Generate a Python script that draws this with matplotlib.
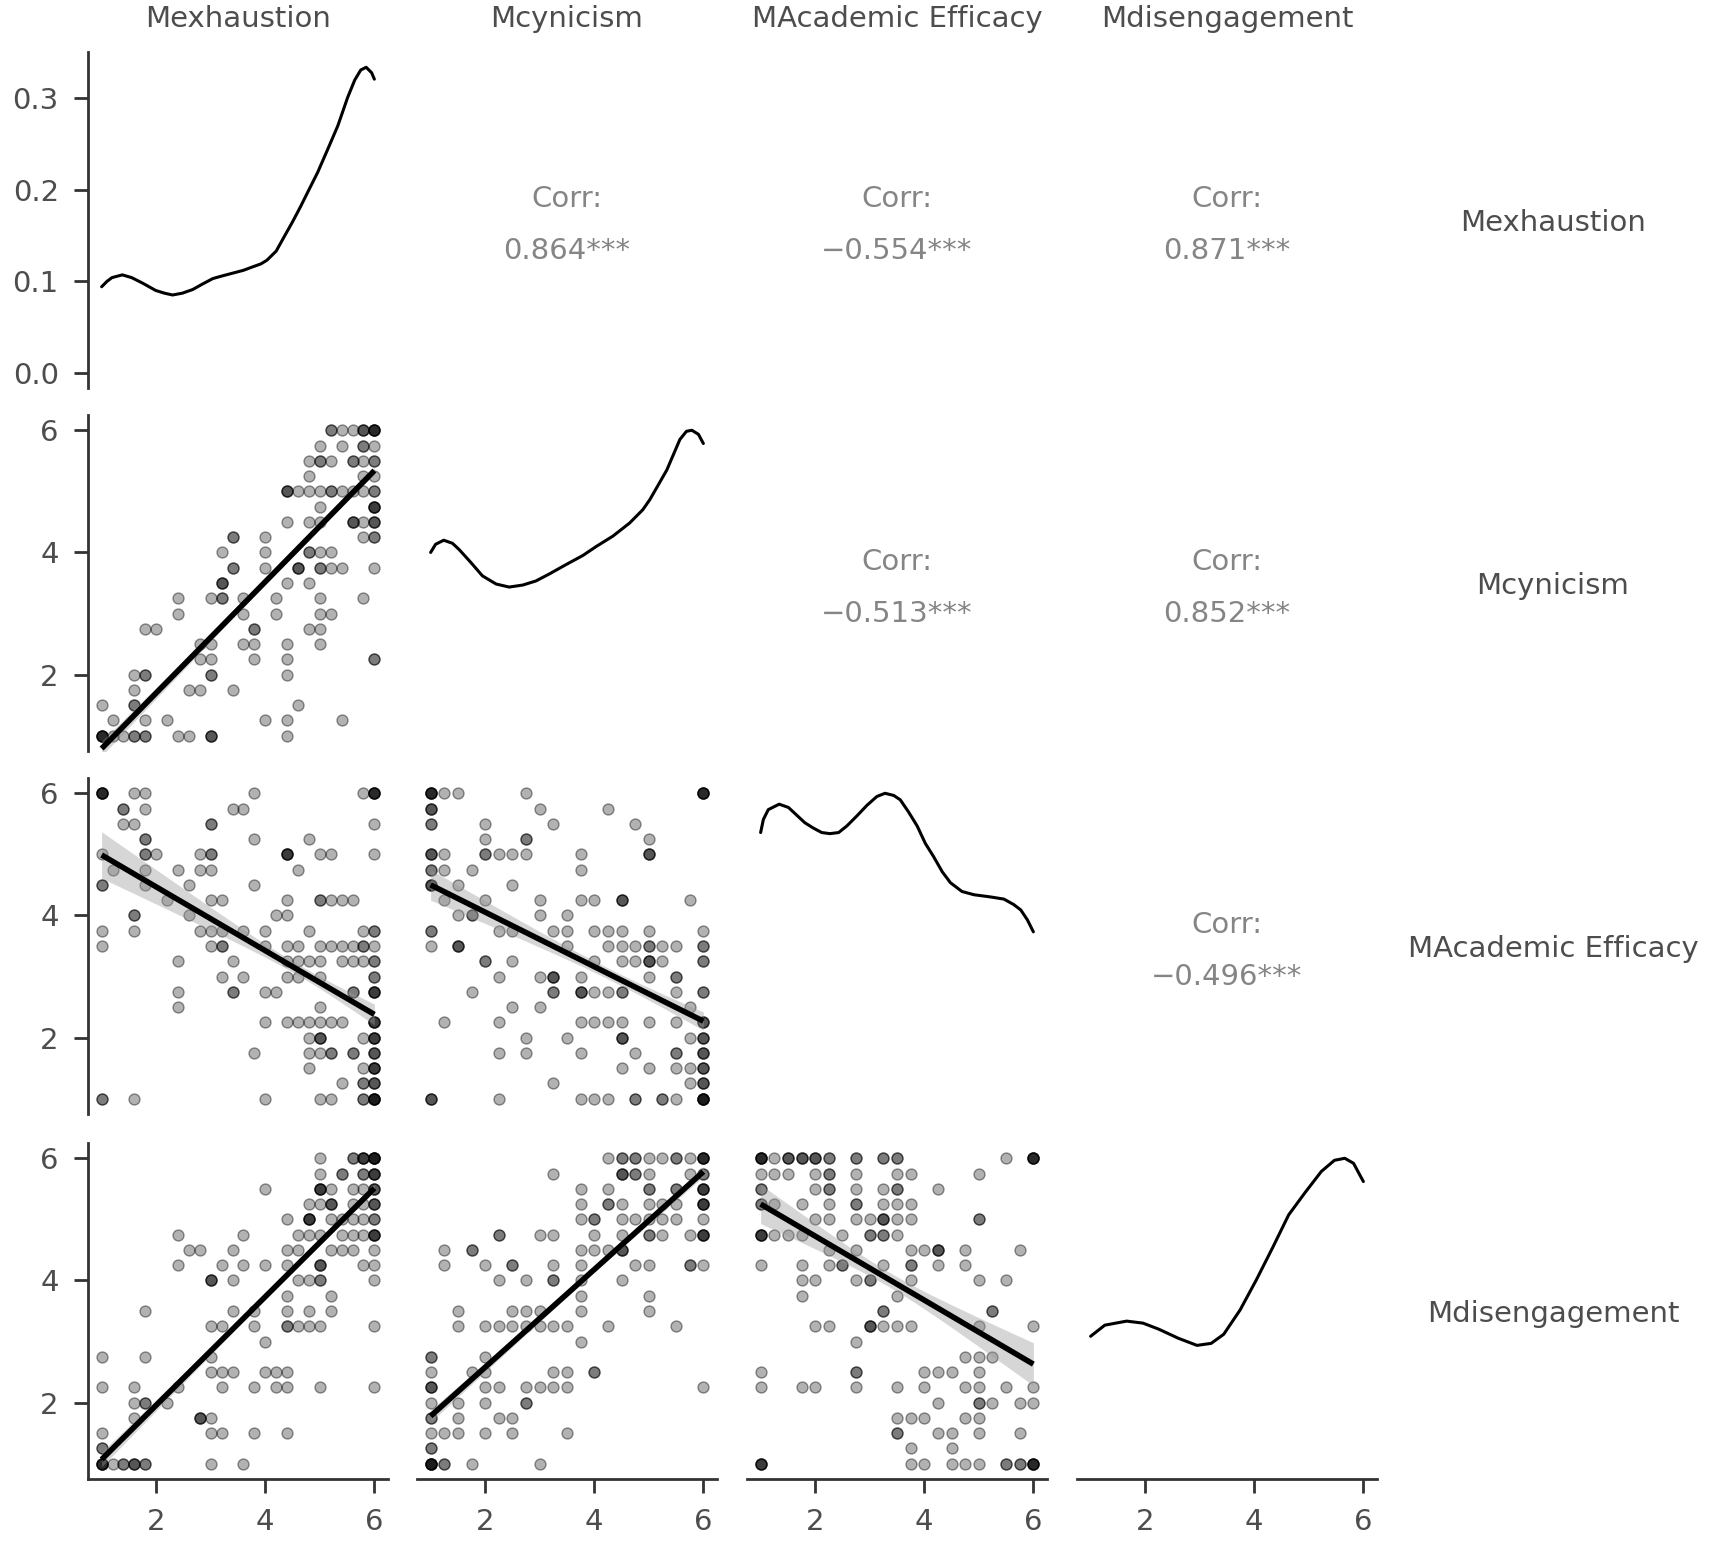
import numpy as np
import matplotlib
matplotlib.use("Agg")
import matplotlib.pyplot as plt

plt.rcParams['font.family'] = ['DejaVu Sans']

# ---------------- data ----------------
variables = ["Mexhaustion", "Mcynicism", "MAcademic Efficacy", "Mdisengagement"]

# correlations (upper triangle) : (row, col, text)
corr_cells = [(0, 1, "0.864***"), (0, 2, "\u22120.554***"), (0, 3, "0.871***"),
              (1, 2, "\u22120.513***"), (1, 3, "0.852***"),
              (2, 3, "\u22120.496***")]

# diagonal density curves (x, density)
dens_exh_x = [1.0, 1.1, 1.19, 1.38, 1.55, 1.75, 1.99, 2.15, 2.30, 2.48, 2.67, 2.85, 3.04, 3.22, 3.41, 3.6, 3.78, 3.92,
              4.03, 4.2, 4.34, 4.5, 4.65, 4.8, 4.96, 5.15, 5.33, 5.51, 5.64, 5.75, 5.85, 5.95, 6.0]
dens_exh_y = [0.094, 0.100, 0.104, 0.107, 0.104, 0.098, 0.090, 0.087, 0.085, 0.087, 0.091, 0.097, 0.103, 0.106, 0.109,
              0.112, 0.116, 0.119, 0.123, 0.133, 0.148, 0.165, 0.182, 0.200, 0.219, 0.245, 0.270, 0.301, 0.320, 0.331,
              0.334, 0.328, 0.321]

dens_cyn_x = [1.0, 1.09, 1.24, 1.40, 1.52, 1.74, 1.95, 2.20, 2.44, 2.69, 2.93, 3.18, 3.48, 3.79, 4.04, 4.34, 4.65,
              4.89, 5.02, 5.17, 5.33, 5.45, 5.57, 5.69, 5.79, 5.91, 6.0]
dens_cyn_y = [0.180, 0.188, 0.192, 0.189, 0.183, 0.170, 0.157, 0.149, 0.146, 0.148, 0.152, 0.159, 0.168, 0.177, 0.186,
              0.196, 0.209, 0.222, 0.232, 0.246, 0.261, 0.276, 0.291, 0.299, 0.300, 0.296, 0.287]

dens_ae_x = [1.0, 1.05, 1.14, 1.34, 1.51, 1.66, 1.81, 1.97, 2.12, 2.27, 2.43, 2.58, 2.76, 2.95, 3.13, 3.28, 3.44, 3.56,
             3.71, 3.87, 4.02, 4.17, 4.33, 4.48, 4.69, 4.91, 5.21, 5.46, 5.64, 5.77, 5.89, 6.0]
dens_ae_y = [0.244, 0.256, 0.265, 0.270, 0.267, 0.260, 0.253, 0.248, 0.244, 0.243, 0.244, 0.250, 0.259, 0.269, 0.277,
             0.280, 0.278, 0.274, 0.263, 0.250, 0.234, 0.222, 0.208, 0.198, 0.190, 0.187, 0.185, 0.183, 0.178, 0.173,
             0.164, 0.153]

dens_dis_x = [1.0, 1.26, 1.66, 1.96, 2.25, 2.61, 2.95, 3.21, 3.44, 3.74, 4.04, 4.34, 4.63, 4.93, 5.23, 5.47, 5.66,
              5.82, 6.0]
dens_dis_y = [0.126, 0.137, 0.141, 0.139, 0.133, 0.124, 0.117, 0.119, 0.128, 0.152, 0.182, 0.214, 0.246, 0.268,
              0.289, 0.300, 0.302, 0.297, 0.279]

# scatter points: rows of (y, [x values], [counts])
pts_cyn_exh = [
    (6.0, [5.2, 5.4, 5.6, 5.8, 6.0], [2, 1, 1, 3, 5]),
    (5.75, [5.0, 5.4, 5.8, 6.0], [1, 1, 2, 1]),
    (5.5, [4.8, 5.0, 5.2, 5.6, 5.8, 6.0], [1, 2, 1, 2, 1, 2]),
    (5.25, [4.8, 5.8, 6.0], [1, 1, 1]),
    (5.0, [4.4, 4.6, 4.8, 5.0, 5.2, 5.4, 5.6, 5.8, 6.0], [3, 1, 1, 1, 2, 1, 1, 1, 2]),
    (4.75, [5.0, 6.0], [1, 4]),
    (4.5, [4.4, 4.8, 5.0, 5.6, 5.8, 6.0], [1, 1, 1, 3, 1, 3]),
    (4.25, [3.4, 4.0, 5.8, 6.0], [2, 1, 1, 2]),
    (4.0, [3.2, 4.0, 4.8, 5.0, 5.2], [1, 1, 2, 1, 1]),
    (3.75, [3.4, 4.0, 4.6, 5.0, 5.2, 5.4, 6.0], [2, 1, 3, 2, 1, 1, 1]),
    (3.5, [3.2, 4.4, 4.8], [3, 1, 1]),
    (3.25, [2.4, 3.0, 3.2, 3.6, 4.2, 5.0, 5.8], [1, 1, 2, 1, 1, 1, 1]),
    (3.0, [2.4, 3.6, 4.2, 5.0, 5.2], [1, 1, 1, 1, 1]),
    (2.75, [1.8, 2.0, 3.8, 4.8, 5.0], [1, 1, 2, 1, 1]),
    (2.5, [2.8, 3.0, 3.6, 3.8, 4.4, 5.0], [1, 1, 1, 1, 1, 1]),
    (2.25, [2.8, 3.0, 3.8, 4.4, 6.0], [1, 1, 1, 1, 2]),
    (2.0, [1.6, 1.8, 3.0, 4.4], [1, 2, 2, 1]),
    (1.75, [1.6, 2.6, 2.8, 3.4], [1, 1, 1, 1]),
    (1.5, [1.0, 1.6, 4.6], [1, 2, 1]),
    (1.25, [1.2, 1.8, 2.2, 4.0, 4.4, 5.4], [1, 1, 1, 1, 1, 1]),
    (1.0, [1.0, 1.2, 1.4, 1.6, 1.8, 2.4, 2.6, 3.0, 4.4], [5, 1, 1, 2, 2, 1, 1, 3, 1]),
]

pts_ae_exh = [
    (6.0, [1.0, 1.6, 1.8, 3.8, 5.8, 6.0], [5, 1, 1, 1, 1, 5]),
    (5.75, [1.4, 1.8, 3.4, 3.6], [2, 1, 1, 1]),
    (5.5, [1.4, 1.6, 3.0, 6.0], [1, 1, 2, 1]),
    (5.25, [1.8, 3.8, 4.8], [2, 1, 1]),
    (5.0, [1.0, 1.8, 2.0, 2.8, 3.0, 4.4, 5.0, 5.2, 6.0], [1, 2, 1, 1, 2, 4, 1, 1, 1]),
    (4.75, [1.2, 1.8, 2.4, 2.8, 3.0, 4.6], [1, 1, 1, 1, 1, 1]),
    (4.5, [1.0, 1.8, 2.6, 3.8], [2, 1, 1, 1]),
    (4.25, [2.2, 3.0, 3.2, 4.4, 5.0, 5.2, 5.4, 5.6], [1, 1, 1, 1, 2, 1, 1, 1]),
    (4.0, [1.6, 2.6, 4.2, 4.4], [2, 1, 1, 1]),
    (3.75, [1.0, 1.6, 2.8, 3.0, 3.2, 3.6, 4.0, 4.8, 5.8, 6.0], [1, 1, 1, 1, 1, 1, 1, 1, 1, 2]),
    (3.5, [1.0, 3.0, 3.2, 4.0, 4.4, 4.6, 5.0, 5.2, 5.4, 5.6, 5.8, 6.0], [1, 1, 2, 1, 1, 1, 1, 1, 1, 1, 2, 1]),
    (3.25, [2.4, 3.4, 4.4, 4.6, 4.8, 5.0, 5.4, 5.6, 5.8, 6.0], [1, 1, 1, 1, 1, 1, 1, 1, 1, 2]),
    (3.0, [3.2, 3.6, 4.4, 4.6, 5.0, 6.0], [1, 1, 1, 1, 1, 2]),
    (2.75, [2.4, 3.4, 4.0, 4.2, 5.6, 6.0], [1, 2, 1, 1, 2, 4]),
    (2.5, [2.4, 5.0], [1, 1]),
    (2.25, [4.0, 4.4, 4.6, 4.8, 5.0, 5.2, 5.4, 6.0], [1, 1, 1, 1, 1, 1, 1, 4]),
    (2.0, [4.8, 5.0, 5.8, 6.0], [1, 3, 1, 4]),
    (1.75, [3.8, 4.8, 5.0, 5.2, 5.6, 6.0], [1, 1, 1, 2, 2, 3]),
    (1.5, [4.8, 5.8, 6.0], [1, 1, 4]),
    (1.25, [5.4, 5.8, 6.0], [1, 2, 3]),
    (1.0, [1.0, 1.6, 4.0, 5.0, 5.2, 5.8, 6.0], [2, 1, 1, 1, 1, 2, 6]),
]

pts_dis_exh = [
    (6.0, [5.0, 5.6, 5.8, 6.0], [1, 2, 4, 6]),
    (5.75, [5.0, 5.4, 5.8, 6.0], [1, 2, 2, 4]),
    (5.5, [4.0, 5.0, 5.2, 5.6, 5.8, 6.0], [1, 4, 1, 1, 1, 3]),
    (5.25, [4.8, 5.0, 5.2, 5.6, 5.8, 6.0], [1, 1, 3, 1, 1, 3]),
    (5.0, [4.4, 4.8, 5.2, 5.4, 5.6, 5.8, 6.0], [1, 4, 1, 1, 1, 1, 2]),
    (4.75, [2.4, 3.6, 4.6, 4.8, 5.0, 5.4, 5.6, 5.8, 6.0], [1, 1, 1, 1, 1, 1, 1, 1, 4]),
    (4.5, [2.6, 2.8, 3.4, 4.4, 4.6, 5.2, 5.4, 5.6, 6.0], [1, 1, 1, 1, 1, 1, 1, 1, 1]),
    (4.25, [2.4, 3.2, 3.6, 4.0, 4.4, 5.0, 5.8, 6.0], [1, 1, 1, 1, 1, 3, 1, 1]),
    (4.0, [3.0, 3.4, 4.6, 4.8, 5.0, 6.0], [3, 1, 1, 1, 2, 1]),
    (3.75, [4.4, 5.2], [1, 1]),
    (3.5, [1.8, 3.4, 3.8, 4.4, 4.8, 5.2], [1, 1, 1, 1, 1, 1]),
    (3.25, [3.0, 3.2, 3.8, 4.4, 4.6, 4.8, 5.0, 6.0], [1, 1, 1, 2, 1, 1, 1, 1]),
    (3.0, [4.0], [1]),
    (2.75, [1.0, 1.8, 3.0], [1, 1, 1]),
    (2.5, [3.0, 3.2, 3.4, 4.0, 4.2, 4.4], [1, 1, 1, 1, 1, 1]),
    (2.25, [1.0, 1.6, 2.4, 3.2, 3.8, 4.2, 4.4, 5.0, 6.0], [1, 1, 1, 1, 1, 1, 1, 1, 1]),
    (2.0, [1.6, 1.8, 2.2], [1, 2, 1]),
    (1.75, [1.6, 2.8, 3.0], [1, 3, 1]),
    (1.5, [1.0, 3.0, 3.2, 3.8, 4.4], [1, 1, 1, 1, 1]),
    (1.25, [1.0], [2]),
    (1.0, [1.0, 1.2, 1.4, 1.6, 1.8, 3.0, 3.6], [5, 1, 2, 3, 2, 1, 1]),
]

pts_ae_cyn = [
    (6.0, [1.0, 1.25, 1.5, 2.75, 6.0], [5, 1, 1, 1, 5]),
    (5.75, [1.0, 3.0, 4.25], [3, 1, 1]),
    (5.5, [1.0, 2.0, 3.25, 4.75], [2, 1, 1, 1]),
    (5.25, [2.0, 2.75, 5.0], [1, 2, 1]),
    (5.0, [1.0, 1.25, 2.0, 2.25, 2.5, 2.75, 3.75, 5.0], [3, 1, 2, 1, 1, 1, 1, 3]),
    (4.75, [1.0, 1.25, 1.75, 3.75], [2, 1, 1, 1]),
    (4.5, [1.0, 1.5, 2.5], [3, 1, 1]),
    (4.25, [1.25, 2.0, 3.0, 3.75, 4.0, 4.5, 5.75], [1, 1, 1, 1, 1, 3, 1]),
    (4.0, [1.5, 1.75, 3.0, 3.5], [1, 2, 1, 1]),
    (3.75, [1.0, 2.25, 2.5, 3.25, 3.5, 4.0, 4.25, 4.5, 5.0, 6.0], [2, 1, 1, 1, 1, 1, 1, 1, 1, 1]),
    (3.5, [1.0, 1.5, 3.5, 4.25, 4.5, 4.75, 5.0, 5.25, 5.5, 6.0], [1, 3, 1, 1, 1, 1, 2, 1, 1, 2]),
    (3.25, [2.0, 2.5, 4.0, 4.5, 4.75, 5.0, 5.25, 6.0], [2, 1, 1, 1, 1, 3, 1, 2]),
    (3.0, [2.25, 3.0, 3.25, 3.75, 5.0, 5.5], [1, 1, 3, 1, 1, 2]),
    (2.75, [1.75, 3.25, 3.75, 4.0, 4.25, 4.5, 5.5, 6.0], [1, 2, 3, 1, 1, 2, 1, 2]),
    (2.5, [2.5, 3.0, 5.75], [1, 1, 1]),
    (2.25, [1.25, 2.25, 3.75, 4.0, 4.25, 4.5, 5.0, 5.5, 6.0], [1, 1, 1, 1, 1, 1, 1, 1, 3]),
    (2.0, [2.75, 3.5, 4.5, 5.75, 6.0], [1, 1, 3, 1, 3]),
    (1.75, [2.25, 2.75, 3.75, 4.75, 5.5, 6.0], [1, 1, 1, 1, 2, 3]),
    (1.5, [4.5, 5.0, 5.5, 5.75, 6.0], [1, 1, 1, 1, 3]),
    (1.25, [3.25, 5.75, 6.0], [1, 1, 3]),
    (1.0, [1.0, 2.25, 3.75, 4.0, 4.25, 4.75, 5.25, 5.5, 6.0], [3, 1, 1, 1, 1, 2, 2, 1, 6]),
]

pts_dis_cyn = [
    (6.0, [4.25, 4.5, 4.75, 5.0, 5.25, 5.5, 5.75, 6.0], [1, 2, 2, 1, 1, 2, 1, 5]),
    (5.75, [3.25, 4.5, 4.75, 5.0, 5.75, 6.0], [1, 3, 2, 1, 1, 2]),
    (5.5, [3.75, 4.25, 5.0, 5.5, 6.0], [1, 1, 2, 2, 4]),
    (5.25, [3.75, 4.25, 4.5, 5.0, 5.25, 5.5, 6.0], [1, 2, 1, 1, 1, 1, 4]),
    (5.0, [3.75, 4.0, 4.5, 4.75, 5.0, 5.25, 5.5, 6.0], [1, 2, 1, 1, 1, 1, 1, 1]),
    (4.75, [2.25, 3.0, 3.25, 4.0, 4.5, 5.0, 5.25, 5.75, 6.0], [2, 1, 1, 1, 1, 2, 1, 1, 4]),
    (4.5, [1.25, 1.75, 3.75, 4.0, 4.25, 4.5], [1, 2, 1, 1, 1, 3]),
    (4.25, [1.25, 2.0, 2.5, 3.25, 3.75, 4.75, 5.0, 5.75, 6.0], [1, 1, 2, 1, 1, 1, 1, 2, 1]),
    (4.0, [2.25, 2.75, 3.25, 3.75, 4.5], [1, 1, 2, 1, 1]),
    (3.75, [3.75, 5.0], [1, 1]),
    (3.5, [1.5, 2.5, 2.75, 3.0, 3.75, 5.0], [1, 1, 1, 1, 1, 1]),
    (3.25, [1.5, 2.0, 2.25, 2.5, 2.75, 3.0, 3.25, 3.5, 4.25, 5.5], [1, 1, 1, 1, 1, 1, 1, 1, 1, 1]),
    (3.0, [3.75], [1]),
    (2.75, [1.0, 2.0], [2, 1]),
    (2.5, [1.0, 1.75, 2.0, 3.25, 3.5, 4.0], [1, 1, 1, 1, 1, 2]),
    (2.25, [1.0, 2.0, 2.25, 2.75, 3.0, 3.25, 3.5, 6.0], [3, 1, 1, 1, 1, 1, 1, 1]),
    (2.0, [1.0, 1.5, 2.0, 2.75], [1, 1, 1, 2]),
    (1.75, [1.0, 1.5, 2.25, 2.5], [2, 1, 1, 1]),
    (1.5, [1.0, 1.25, 1.5, 2.0, 2.5, 3.5], [1, 1, 1, 1, 1, 1]),
    (1.25, [1.0], [2]),
    (1.0, [1.0, 1.25, 1.75, 3.0], [6, 2, 1, 1]),
]

pts_dis_ae = [
    (6.0, [1.0, 1.25, 1.5, 1.75, 2.0, 2.25, 2.75, 3.25, 3.5, 5.5, 6.0], [5, 1, 3, 3, 3, 2, 2, 2, 2, 1, 5]),
    (5.75, [1.0, 1.25, 1.5, 2.0, 2.25, 2.75, 3.5, 3.75, 5.0], [1, 1, 1, 1, 2, 1, 1, 1, 1]),
    (5.5, [1.0, 2.0, 2.25, 2.75, 3.25, 3.5, 4.25], [2, 1, 2, 1, 1, 2, 1]),
    (5.25, [1.0, 1.25, 1.75, 2.25, 2.75, 3.25, 3.5, 3.75], [2, 1, 1, 1, 2, 1, 1, 1]),
    (5.0, [2.0, 2.25, 2.75, 3.0, 3.25, 3.5, 3.75, 5.0], [1, 1, 1, 1, 3, 1, 1, 2]),
    (4.75, [1.0, 1.25, 1.5, 1.75, 2.5, 3.0, 3.25, 3.5], [4, 1, 1, 1, 1, 2, 2, 1]),
    (4.5, [2.25, 2.75, 3.75, 4.0, 4.25, 4.75, 5.75], [1, 1, 1, 1, 3, 1, 1]),
    (4.25, [1.0, 1.75, 2.25, 2.5, 3.25, 3.75, 4.25, 4.75], [1, 1, 1, 2, 1, 2, 1, 1]),
    (4.0, [1.75, 2.0, 2.75, 3.0, 3.75, 5.0, 5.5], [1, 1, 1, 2, 1, 1, 1]),
    (3.75, [1.75, 3.5], [1, 1]),
    (3.5, [3.25, 5.25], [2, 2]),
    (3.25, [2.0, 2.25, 3.0, 3.25, 3.5, 3.75, 5.0, 6.0], [1, 1, 3, 1, 1, 1, 1, 1]),
    (3.0, [2.75], [1]),
    (2.75, [4.75, 5.0, 5.25], [1, 1, 1]),
    (2.5, [1.0, 2.75, 4.0, 4.25, 4.5, 5.0], [1, 2, 1, 1, 1, 1]),
    (2.25, [1.0, 1.75, 2.0, 2.75, 3.5, 4.0, 4.75, 5.0, 5.5, 6.0], [1, 1, 1, 1, 1, 1, 1, 1, 1, 1]),
    (2.0, [4.25, 5.0, 5.25, 5.75, 6.0], [1, 2, 1, 1, 1]),
    (1.75, [3.5, 3.75, 4.0, 4.75, 5.0], [1, 1, 1, 1, 1]),
    (1.5, [3.5, 4.25, 4.5, 5.0, 5.75], [2, 1, 1, 1, 1]),
    (1.25, [3.75, 4.5], [1, 1]),
    (1.0, [1.0, 3.75, 4.0, 4.5, 4.75, 5.0, 5.5, 5.75, 6.0], [4, 1, 1, 1, 1, 1, 2, 2, 5]),
]

# linear fits: (y at x=1, y at x=6), CI half-width (at x=1, at x=6, minimum)
fit_cyn_exh = (0.79, 5.34, 0.12, 0.06, 0.04)
fit_ae_exh = (4.99, 2.38, 0.38, 0.17, 0.09)
fit_dis_exh = (1.07, 5.51, 0.12, 0.06, 0.04)
fit_ae_cyn = (4.50, 2.27, 0.25, 0.15, 0.09)
fit_dis_cyn = (1.78, 5.78, 0.10, 0.08, 0.05)
fit_dis_ae = (5.25, 2.63, 0.32, 0.35, 0.12)

density_ticks = [0.0, 0.1, 0.2, 0.3]
density_labels = ["0.0", "0.1", "0.2", "0.3"]
value_ticks = [2, 4, 6]

# ---------------- layout ----------------
W, H = 1713, 1541
fig = plt.figure(figsize=(W / 100, H / 100), dpi=100)
fig.patch.set_facecolor("white")

col_left = [88, 417, 747, 1077]
row_top = [52, 415, 778, 1143]
pw, ph = 300, 336

AXCOL = "#333333"
TXTCOL = "#4d4d4d"
FS = 21


def make_ax(r, c):
    ax = fig.add_axes([col_left[c] / W, 1 - (row_top[r] + ph) / H, pw / W, ph / H])
    for s in ax.spines.values():
        s.set_visible(False)
    ax.set_facecolor("none")
    ax.set_xticks([])
    ax.set_yticks([])
    return ax


def style_axes(ax, r, c, yticks=None, ylabels=None):
    ax.tick_params(length=10, width=2, color=AXCOL, labelcolor=TXTCOL,
                   labelsize=FS, pad=11)
    if c == 0:
        ax.spines["left"].set_visible(True)
        ax.spines["left"].set_color(AXCOL)
        ax.spines["left"].set_linewidth(2)
        ax.set_yticks(yticks)
        if ylabels is not None:
            ax.set_yticklabels(ylabels)
    if r == 3:
        ax.spines["bottom"].set_visible(True)
        ax.spines["bottom"].set_color(AXCOL)
        ax.spines["bottom"].set_linewidth(2)
        ax.set_xticks(value_ticks)


def scatter_panel(ax, rows, fit):
    xs, ys = [], []
    for yv, xv, nv in rows:
        for xx, nn in zip(xv, nv):
            xs += [xx] * nn
            ys += [yv] * nn
    ax.scatter(xs, ys, s=62, facecolor=(0, 0, 0, 0.30), edgecolor=(0, 0, 0, 0.42),
               linewidths=1.0, zorder=2)
    y1, y6, h1, h6, hm = fit
    xx = np.linspace(1, 6, 101)
    yy = y1 + (y6 - y1) * (xx - 1) / 5
    a = np.sqrt(max(h1 ** 2 - hm ** 2, 1e-9))
    b = np.sqrt(max(h6 ** 2 - hm ** 2, 1e-9))
    x0 = (6 * a + b) / (a + b)
    k = (a / (x0 - 1)) ** 2
    hw = np.sqrt(hm ** 2 + k * (xx - x0) ** 2)
    ax.fill_between(xx, yy - hw, yy + hw, color="#999999", alpha=0.4, linewidth=0, zorder=3)
    ax.plot(xx, yy, color="black", lw=4, solid_capstyle="butt", zorder=4)
    ax.set_xlim(0.75, 6.25)
    ax.set_ylim(0.75, 6.25)


def density_panel(ax, xs, ys):
    ax.plot(xs, ys, color="black", lw=2.2, solid_joinstyle="round", solid_capstyle="round")
    m = max(ys)
    ax.set_xlim(0.75, 6.25)
    ax.set_ylim(-0.05 * m, 1.05 * m)


dens = [(dens_exh_x, dens_exh_y), (dens_cyn_x, dens_cyn_y),
        (dens_ae_x, dens_ae_y), (dens_dis_x, dens_dis_y)]
scat = {(1, 0): (pts_cyn_exh, fit_cyn_exh), (2, 0): (pts_ae_exh, fit_ae_exh),
        (3, 0): (pts_dis_exh, fit_dis_exh), (2, 1): (pts_ae_cyn, fit_ae_cyn),
        (3, 1): (pts_dis_cyn, fit_dis_cyn), (3, 2): (pts_dis_ae, fit_dis_ae)}
corr_map = {(r, c): t for r, c, t in corr_cells}

for r in range(4):
    for c in range(4):
        ax = make_ax(r, c)
        if r == c:
            density_panel(ax, *dens[r])
            if r == 0:
                style_axes(ax, r, c, density_ticks, density_labels)
            else:
                style_axes(ax, r, c, value_ticks)
        elif r > c:
            rows, fit = scat[(r, c)]
            scatter_panel(ax, rows, fit)
            style_axes(ax, r, c, value_ticks)
        else:
            ax.set_xlim(0, 1)
            ax.set_ylim(0, 1)
            ax.text(0.5, 0.562, "Corr:", ha="center", va="center",
                    fontsize=FS, color="#858585", transform=ax.transAxes)
            ax.text(0.5, 0.407, corr_map[(r, c)], ha="center", va="center",
                    fontsize=FS, color="#858585", transform=ax.transAxes)

# column headers and row labels
for c, name in enumerate(variables):
    cx = (col_left[c] + pw / 2) / W
    fig.text(cx, 1 - 19 / H, name, ha="center", va="center", fontsize=FS, color=TXTCOL)
for r, name in enumerate(variables):
    cy = 1 - (row_top[r] + ph / 2 + 3) / H
    fig.text(1553 / W, cy, name, ha="center", va="center", fontsize=FS, color=TXTCOL)

fig.savefig("out.png", dpi=100, facecolor="white")
